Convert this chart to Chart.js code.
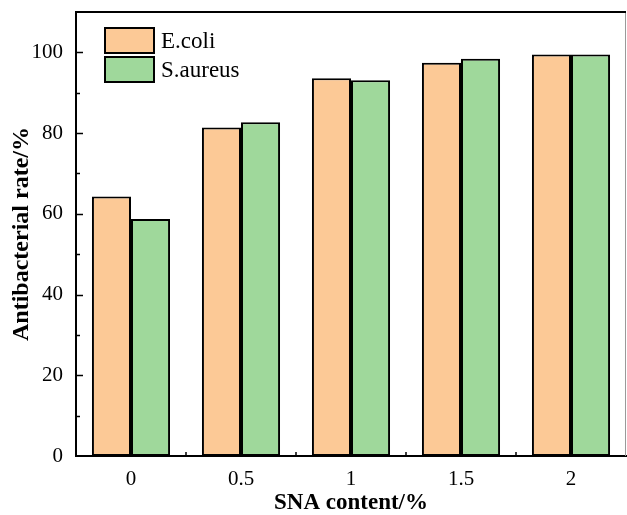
<!DOCTYPE html>
<html>
<head>
<meta charset="utf-8">
<script src="https://cdn.jsdelivr.net/npm/chart.js@4"></script>
<style>
  html, body { margin: 0; padding: 0; background: #fff; }
  #wrap { width: 627px; height: 515px; }
</style>
</head>
<body>
<div id="wrap"><canvas id="myChart"></canvas></div>
<script>
'use strict'

// data
const contents = ['0', '0.5', '1', '1.5', '2'];
const ecoliRate = [64.3, 81.4, 93.6, 97.4, 99.5];
const aureusRate = [58.7, 82.7, 93.1, 98.4, 99.5];
const seriesNames = ['E.coli', 'S.aureus'];
const yTickLabels = [0, 20, 40, 60, 80, 100];

const serif = 'Liberation Serif, Times New Roman, serif';

// frame, inward ticks and the legend box inside the plot
const framePlugin = {
  id: 'frame',
  afterDraw(chart){
    const ctx = chart.ctx;
    const area = chart.chartArea;
    const y = chart.scales.y;
    const x = chart.scales.x;
    ctx.save();

    // right edge (thin grey) and top edge (black)
    ctx.strokeStyle = '#9a9a9a';
    ctx.lineWidth = 1;
    ctx.beginPath();
    ctx.moveTo(area.right - 0.5, area.top);
    ctx.lineTo(area.right - 0.5, area.bottom);
    ctx.stroke();
    ctx.strokeStyle = '#000';
    ctx.lineWidth = 2;
    ctx.beginPath();
    ctx.moveTo(area.left - 1, area.top);
    ctx.lineTo(area.right, area.top);
    ctx.stroke();

    // y ticks, pointing into the plot
    ctx.lineWidth = 1.5;
    for (let v = 10; v < y.max; v += 10){
      const py = Math.round(y.getPixelForValue(v)) + 0.5;
      const len = yTickLabels.includes(v) ? 7 : 4;
      ctx.beginPath();
      ctx.moveTo(area.left, py);
      ctx.lineTo(area.left + len, py);
      ctx.stroke();
    }

    // x minor ticks between categories
    for (let i = 0; i < contents.length - 1; i++){
      const px = (x.getPixelForValue(i) + x.getPixelForValue(i + 1)) / 2;
      ctx.beginPath();
      ctx.moveTo(px, area.bottom);
      ctx.lineTo(px, area.bottom - 4);
      ctx.stroke();
    }

    // legend
    const boxX = 105, boxW = 49, boxH = 25;
    let boxY = 28;
    ctx.font = '23px ' + serif;
    ctx.textBaseline = 'middle';
    for (let ds of chart.data.datasets){
      ctx.fillStyle = ds.backgroundColor;
      ctx.fillRect(boxX, boxY, boxW, boxH);
      ctx.strokeStyle = '#000';
      ctx.lineWidth = 2;
      ctx.strokeRect(boxX, boxY, boxW, boxH);
      ctx.fillStyle = '#000';
      ctx.fillText(ds.label, boxX + boxW + 7, boxY + boxH / 2 + 1);
      boxY += 29;
    }
    ctx.restore();
  }
};

function makeChart(){
  const ctx = document.getElementById('myChart').getContext('2d');

  const myChart = new Chart(ctx, {
    type: 'bar',
    data: {
      labels: contents,
      datasets: [{
        label: seriesNames[0],
        data: ecoliRate,
        backgroundColor: '#fcc996',
        borderColor: '#000',
        borderWidth: 2,
        borderSkipped: false
      },
      {
        label: seriesNames[1],
        data: aureusRate,
        backgroundColor: '#9fd89b',
        borderColor: '#000',
        borderWidth: 2,
        borderSkipped: false
      }]
    },
    options: {
      responsive: true,
      maintainAspectRatio: false,
      animation: false,
      devicePixelRatio: 1,
      datasets: {
        bar: { barPercentage: 1, categoryPercentage: 0.71 }
      },
      layout: { padding: { top: 12, right: 1, left: 0, bottom: 0 } },
      plugins: {
        legend: { display: false },
        tooltip: { enabled: false }
      },
      scales: {
        x: {
          offset: true,
          grid: { display: false, drawTicks: false },
          border: { display: true, color: '#000', width: 2 },
          ticks: { color: '#000', padding: 11, font: { family: serif, size: 21 } },
          title: {
            display: true,
            text: 'SNA content/%',
            color: '#000',
            padding: { top: -6, bottom: 0 },
            font: { family: serif, size: 23, weight: 'bold', lineHeight: 1 }
          },
          afterFit(scale){
            scale.height = 59;
            scale.paddingLeft = 0;
            scale.paddingRight = 0;
          }
        },
        y: {
          min: 0,
          max: 110,
          grid: { display: false, drawTicks: false },
          border: { display: true, color: '#000', width: 2 },
          ticks: {
            stepSize: 10,
            color: '#000',
            padding: 13,
            font: { family: serif, size: 21 },
            callback: (v) => yTickLabels.includes(v) ? v : ''
          },
          title: {
            display: true,
            text: 'Antibacterial rate/%',
            color: '#000',
            padding: { top: 10, bottom: 0 },
            font: { family: serif, size: 24, weight: 'bold', lineHeight: 1 }
          },
          afterFit(scale){
            scale.width = 76;
            scale.paddingTop = 0;
            scale.paddingBottom = 0;
          }
        }
      }
    },
    plugins: [framePlugin]
  });
}

makeChart();
</script>
</body>
</html>
